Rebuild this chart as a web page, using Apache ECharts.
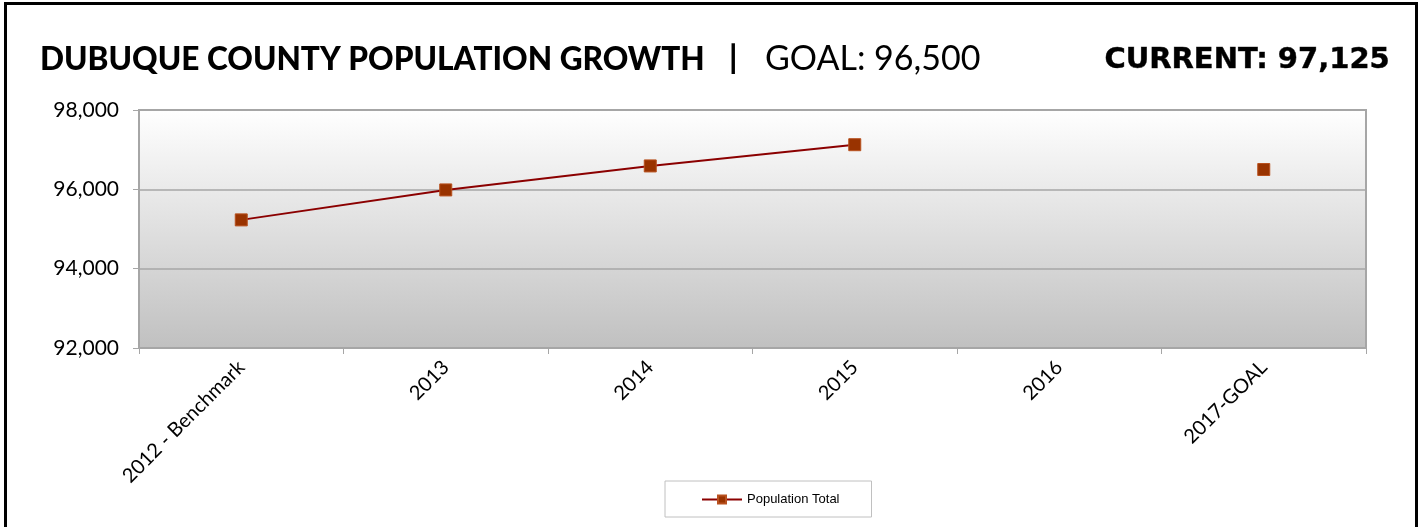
<!DOCTYPE html>
<html>
<head>
<meta charset="utf-8">
<script src="https://cdn.jsdelivr.net/npm/echarts@6/dist/echarts.min.js"></script>
<style>
  html, body { margin: 0; padding: 0; background: #fff; }
  #wrap { position: relative; width: 1424px; height: 527px; overflow: hidden; }
  #chart { width: 1424px; height: 527px; }
  #frame { position: absolute; left: 4px; top: 2px; width: 1414px; height: 540px;
           border: 3px solid #000; pointer-events: none; box-sizing: border-box; }
</style>
</head>
<body>
<div id="wrap">
  <div id="chart"></div>
  <div id="frame"></div>
</div>
<script>
// chart data
const years = ['2012 - Benchmark', '2013', '2014', '2015', '2016', '2017-GOAL'];
const population = [95230, 95985, 96590, 97125, null, 96500];
const yTicks = { min: 92000, max: 98000, step: 2000 };

const chart = echarts.init(document.getElementById('chart'));

chart.setOption({
  animation: false,
  graphic: [
    {
      type: 'text', left: 40, top: 44,
      style: { text: 'DUBUQUE COUNTY POPULATION GROWTH', fill: '#000',
               font: '900 31.6px Lato' }
    },
    {
      type: 'text', left: 729, top: 43,
      style: { text: '|', fill: '#000', font: '900 32px Lato' }
    },
    {
      type: 'text', left: 765, top: 42,
      style: { text: 'GOAL: 96,500', fill: '#000', font: '400 34px Lato' }
    },
    {
      type: 'text', right: 34, top: 46,
      style: { text: 'CURRENT: 97,125', fill: '#000', font: 'bold 29px "DejaVu Sans"',
               stroke: '#333', lineWidth: 0.5 }
    }
  ],
  legend: {
    data: ['Population Total'],
    left: 665,
    top: 481,
    padding: [12, 32, 11, 36],
    itemWidth: 40,
    itemHeight: 10,
    itemGap: 5,
    borderColor: '#c0c0c0',
    borderWidth: 1,
    backgroundColor: '#fff',
    textStyle: { fontFamily: 'Liberation Sans', fontSize: 13, color: '#000' }
  },
  grid: {
    left: 139, right: 58, top: 110, bottom: 179,
    show: true,
    borderColor: '#a6a6a6',
    borderWidth: 2,
    backgroundColor: new echarts.graphic.LinearGradient(0, 0, 0, 1, [
      { offset: 0, color: '#ffffff' },
      { offset: 1, color: '#c0c0c0' }
    ])
  },
  xAxis: {
    type: 'category',
    data: years,
    boundaryGap: true,
    axisLine: { lineStyle: { color: '#a6a6a6', width: 2 } },
    axisTick: { show: true, length: 6, lineStyle: { color: '#a6a6a6', width: 1 } },
    axisLabel: {
      interval: 0, rotate: 45, margin: 16,
      fontFamily: 'Lato', fontSize: 20, color: '#000'
    }
  },
  yAxis: {
    type: 'value',
    min: yTicks.min, max: yTicks.max, interval: yTicks.step,
    axisLine: { show: true, lineStyle: { color: '#a6a6a6', width: 2 } },
    axisTick: { show: true, length: 6, lineStyle: { color: '#a6a6a6', width: 1 } },
    splitLine: { lineStyle: { color: '#a6a6a6', width: 1.5 } },
    axisLabel: {
      margin: 20,
      fontFamily: 'Lato', fontSize: 21, color: '#000',
      formatter: v => v.toLocaleString('en-US')
    }
  },
  series: [
    {
      name: 'Population Total',
      type: 'line',
      data: population,
      connectNulls: false,
      symbol: 'rect',
      symbolSize: 12,
      lineStyle: { color: '#8b0000', width: 2 },
      itemStyle: { color: '#993300', borderColor: '#b8501e', borderWidth: 1 }
    }
  ]
});

window.addEventListener('resize', () => chart.resize());
</script>
</body>
</html>
